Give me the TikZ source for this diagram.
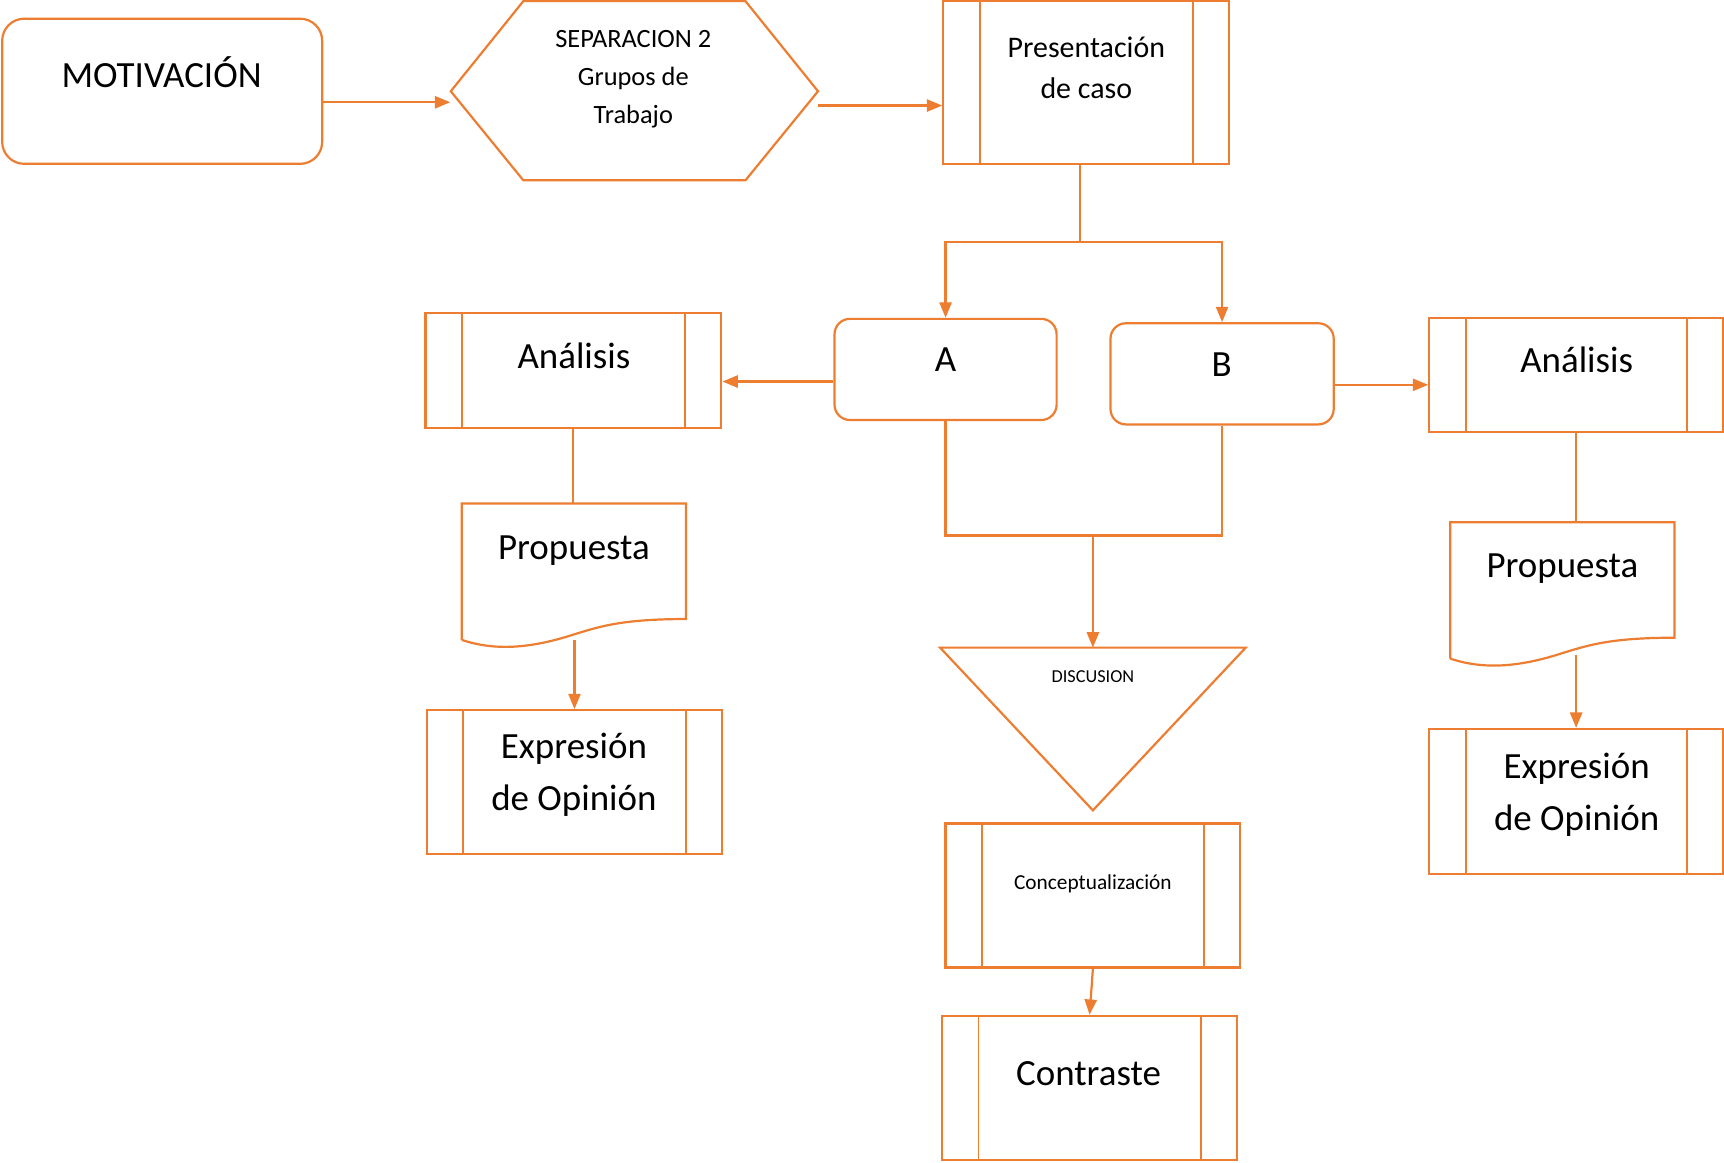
\documentclass[tikz,border=0pt]{standalone}
\usepackage{fontspec}
\setmainfont{Carlito}
\usetikzlibrary{arrows.meta}
\definecolor{orng}{HTML}{ED7D31}
\begin{document}
\begin{tikzpicture}[x=0.5pt,y=-0.5pt,
  shapeline/.style={draw=orng,line width=1pt},
  ghost/.style={inner sep=0pt,draw=none},
  roundbox/.style={shapeline,inner sep=0pt},
  procbox/.style={shapeline,inner sep=0pt,
    path picture={
      \draw[orng,line width=0.8pt] ([xshift=16.5pt]path picture bounding box.north west) -- ([xshift=16.5pt]path picture bounding box.south west);
      \draw[orng,line width=0.8pt] ([xshift=-16.5pt]path picture bounding box.north east) -- ([xshift=-16.5pt]path picture bounding box.south east);}},
  conn/.style={draw=orng,line width=1pt},
  arr/.style={conn,-{Triangle[length=7pt,width=5.5pt]}},
  bigtext/.style={font=\fontsize{16.8}{20}\selectfont,inner sep=0pt,anchor=base},
  midtext/.style={font=\fontsize{13.6}{16}\selectfont,inner sep=0pt,anchor=base},
  hextext/.style={font=\fontsize{12}{14}\selectfont,inner sep=0pt,anchor=base},
  smalltext/.style={font=\fontsize{9.7}{11}\selectfont,inner sep=0pt,anchor=base},
  tinytext/.style={font=\fontsize{8.3}{10}\selectfont,inner sep=0pt,anchor=base}
]
\useasboundingbox (0,0) rectangle (1568,1057);

% MOTIVACION
\node[roundbox,rounded corners=10pt,minimum width=145.5pt,minimum height=66pt] (mot) at (147.5,83) {};
\node[bigtext] (tmot) at (147,80) {MOTIVACIÓN};

% Hexagon
\node[ghost,minimum width=167pt,minimum height=81.5pt] (hex) at (577,82.5) {};
\draw[shapeline] (410,83) -- (476,1) -- (678,1) -- (744,83) -- (678,164) -- (476,164) -- cycle;
\node[hextext] (th1) at (576,43) {SEPARACION 2};
\node[hextext] (th2) at (576,78) {Grupos de};
\node[hextext] (th3) at (576,112) {Trabajo};

% Presentacion
\node[procbox,minimum width=130pt,minimum height=74pt] (pres) at (988,75) {};
\node[midtext] (tp1) at (988,52) {Presentación};
\node[midtext] (tp2) at (988,90) {de caso};

% A and B
\node[roundbox,rounded corners=7pt,minimum width=101pt,minimum height=46pt] (A) at (860,336) {};
\node[bigtext] (tA) at (860,338) {A};
\node[roundbox,rounded corners=7pt,minimum width=101.5pt,minimum height=46pt] (B) at (1111.5,340) {};
\node[bigtext] (tB) at (1111,342) {B};

% Analisis
\node[procbox,minimum width=134.5pt,minimum height=52pt] (anaL) at (521.5,337) {};
\node[bigtext] (taL) at (522,335) {Análisis};
\node[procbox,minimum width=133.5pt,minimum height=52pt] (anaR) at (1433.5,341) {};
\node[bigtext] (taR) at (1434,339) {Análisis};

% Propuesta (document shapes)
\node[ghost,minimum width=102pt,minimum height=62pt] (propL) at (522,520) {};
\draw[shapeline] (420,582) -- (420,458) -- (624,458) -- (624,563)
  .. controls (565,563) and (545,570) .. (522,577)
  .. controls (482,590) and (450,592) .. (420,582);
\node[bigtext] (tprL) at (522,509) {Propuesta};
\begin{scope}[shift={(899,17)}]
\draw[shapeline] (420,582) -- (420,458) -- (624,458) -- (624,563)
  .. controls (565,563) and (545,570) .. (522,577)
  .. controls (482,590) and (450,592) .. (420,582);
\end{scope}
\node[ghost,minimum width=102pt,minimum height=62pt] (propR) at (1421,537) {};
\node[bigtext] (tprR) at (1421,525) {Propuesta};

% Expresion de Opinion
\node[procbox,minimum width=134.5pt,minimum height=65.5pt] (expL) at (522.5,711.5) {};
\node[bigtext] (te1L) at (522,690) {Expresión};
\node[bigtext] (te2L) at (522,737) {de Opinión};
\node[procbox,minimum width=133.5pt,minimum height=66pt] (expR) at (1433.5,729) {};
\node[bigtext] (te1R) at (1434,708) {Expresión};
\node[bigtext] (te2R) at (1434,755) {de Opinión};

% Discusion triangle
\node[ghost,minimum width=139pt,minimum height=74pt] (disc) at (994,663) {};
\draw[shapeline] (855,589) -- (1133,589) -- (994,737) -- cycle;
\coordinate (discTop) at (994,589);
\node[tinytext] (tdisc) at (994,621) {DISCUSION};

% Conceptualizacion
\node[procbox,minimum width=134pt,minimum height=65.5pt] (conc) at (994,814.5) {};
\node[smalltext] (tconc) at (994,809) {Conceptualización};

% Contraste
\node[procbox,minimum width=134pt,minimum height=65.5pt] (cont) at (991,989.5) {};
\node[bigtext] (tcont) at (990,987) {Contraste};

% Connectors
\draw[arr] ([yshift=-5pt]mot.east) -- ([yshift=-5pt]mot.east -| hex.west);
\draw[arr] ([yshift=-6.75pt]hex.east) -- ([yshift=-6.75pt]hex.east -| pres.west);
\coordinate (split) at (982,220);
\draw[conn] ([xshift=-3pt]pres.south) -- (split);
\draw[arr] (split) -| (A.north);
\draw[arr] (split) -| (B.north);
\draw[arr] ([yshift=-5.5pt]A.west) -- ([yshift=-5.5pt]A.west -| anaL.east);
\draw[arr] ([yshift=-5pt]B.east) -- ([yshift=-5pt]B.east -| anaR.west);
\draw[conn] (anaL.south) -- (anaL.south |- propL.north);
\draw[arr] (expL.north |- propL.south) -- (expL.north);
\draw[conn] (anaR.south) -- (anaR.south |- propR.north);
\draw[arr] ([yshift=2pt]expR.north |- propR.south) -- (expR.north);
\coordinate (join) at (994,487);
\draw[conn] (A.south) |- (join);
\draw[conn] (B.south) |- (join);
\draw[arr] (join) -- (discTop);
\draw[arr] (conc.south) -- (cont.north);
\end{tikzpicture}
\end{document}
